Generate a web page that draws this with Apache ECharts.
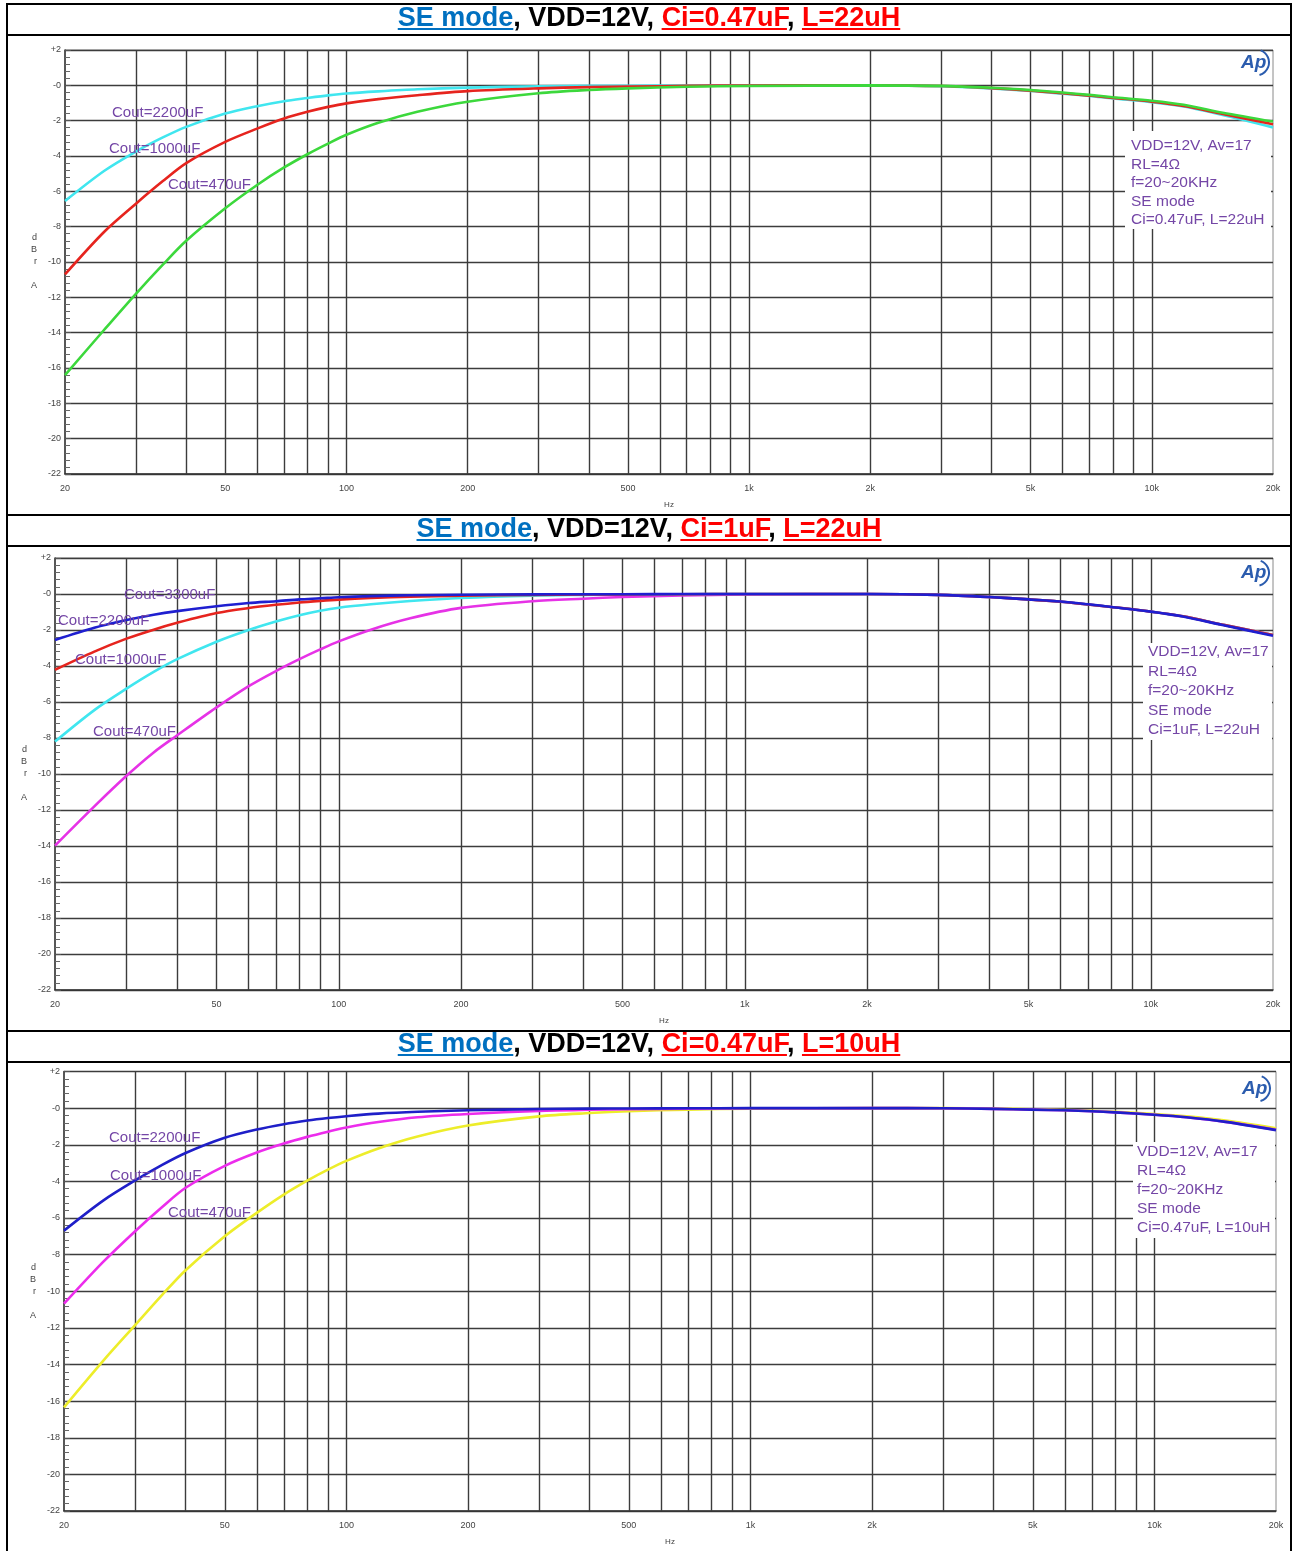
<!DOCTYPE html>
<html><head><meta charset="utf-8">
<script src="https://cdn.jsdelivr.net/npm/echarts@6/dist/echarts.min.js"></script>
<style>
body{margin:0;background:#fff;width:1293px;height:1551px;position:relative;overflow:hidden;font-family:Arial,"Liberation Sans",sans-serif}
.ln{position:absolute;background:#000;z-index:5}
.hdr{position:absolute;left:9px;width:1280px;height:31px;line-height:31px;text-align:center;font-weight:bold;font-size:27px;color:#000;white-space:nowrap;z-index:6}
.b{color:#0070c0;text-decoration:underline}
.r{color:#ff0000;text-decoration:underline}
.ch{position:absolute;left:0;width:1293px}
</style></head>
<body>
<div class="ln" style="left:6px;top:3px;width:1286px;height:2px"></div>
<div class="ln" style="left:6px;top:3px;width:2px;height:1548px"></div>
<div class="ln" style="left:1290px;top:3px;width:2px;height:1548px"></div>
<div class="ln" style="left:6px;top:34px;width:1286px;height:2px"></div>
<div class="ln" style="left:6px;top:514px;width:1286px;height:2px"></div>
<div class="ln" style="left:6px;top:545px;width:1286px;height:2px"></div>
<div class="ln" style="left:6px;top:1030px;width:1286px;height:2px"></div>
<div class="ln" style="left:6px;top:1061px;width:1286px;height:2px"></div>

<div class="hdr" style="top:2px"><span class="b">SE mode</span>, VDD=12V, <span class="r">Ci=0.47uF</span>, <span class="r">L=22uH</span></div>
<div class="hdr" style="top:513px"><span class="b">SE mode</span>, VDD=12V, <span class="r">Ci=1uF</span>, <span class="r">L=22uH</span></div>
<div class="hdr" style="top:1028px"><span class="b">SE mode</span>, VDD=12V, <span class="r">Ci=0.47uF</span>, <span class="r">L=10uH</span></div>

<div id="c1" class="ch" style="top:36px;height:478px"></div>
<div id="c2" class="ch" style="top:547px;height:483px"></div>
<div id="c3" class="ch" style="top:1063px;height:488px"></div>

<script>
// ---- data ----
const freqs = [20,25,30,35,40,50,60,70,80,90,100,120,150,200,300,400,500,700,1000,2000,3000,4000,5000,6000,7000,8000,10000,12000,15000,20000];
const xLabelValues = [20,50,100,200,500,1000,2000,5000,10000,20000];
const gridFreqs = [30,40,50,60,70,80,90,100,200,300,400,500,600,700,800,900,1000,2000,3000,4000,5000,6000,7000,8000,9000,10000];

// Panel 1: SE mode, VDD=12V, Ci=0.47uF, L=22uH
const p1Cout2200 = [-6.55,-4.85,-3.75,-2.95,-2.35,-1.6,-1.18,-0.9,-0.72,-0.57,-0.46,-0.34,-0.22,-0.13,-0.05,-0.03,-0.02,-0.01,0,0,-0.05,-0.18,-0.32,-0.47,-0.6,-0.74,-0.95,-1.2,-1.68,-2.38];
const p1Cout1000 = [-10.7,-8.3,-6.7,-5.42,-4.4,-3.2,-2.45,-1.88,-1.5,-1.22,-1.02,-0.78,-0.56,-0.33,-0.17,-0.1,-0.07,-0.03,-0.01,0,-0.04,-0.16,-0.3,-0.45,-0.58,-0.71,-0.92,-1.17,-1.62,-2.2];
const p1Cout470  = [-16.4,-13.85,-11.8,-10.15,-8.8,-6.96,-5.64,-4.65,-3.9,-3.3,-2.8,-2.12,-1.5,-0.93,-0.45,-0.26,-0.17,-0.08,-0.04,0,-0.03,-0.14,-0.27,-0.41,-0.54,-0.67,-0.87,-1.1,-1.55,-2.05];

// Panel 2: SE mode, VDD=12V, Ci=1uF, L=22uH
const p2Cout3300 = [-2.56,-1.88,-1.45,-1.15,-0.95,-0.68,-0.5,-0.4,-0.3,-0.24,-0.18,-0.12,-0.07,-0.04,-0.02,-0.01,-0.01,0,0,0,-0.05,-0.17,-0.3,-0.42,-0.57,-0.72,-0.98,-1.25,-1.72,-2.32];
const p2Cout2200 = [-4.21,-3.2,-2.48,-1.98,-1.6,-1.06,-0.78,-0.6,-0.47,-0.38,-0.31,-0.22,-0.15,-0.1,-0.05,-0.03,-0.02,-0.01,0,0,-0.05,-0.17,-0.3,-0.43,-0.58,-0.72,-0.98,-1.24,-1.7,-2.28];
const p2Cout1000 = [-8.2,-6.45,-5.26,-4.33,-3.62,-2.65,-2.0,-1.53,-1.18,-0.93,-0.76,-0.57,-0.39,-0.22,-0.09,-0.05,-0.03,-0.01,0,0,-0.05,-0.17,-0.3,-0.43,-0.58,-0.72,-0.98,-1.24,-1.7,-2.28];
const p2Cout470  = [-13.98,-11.8,-10.1,-8.8,-7.85,-6.3,-5.12,-4.28,-3.62,-3.08,-2.63,-1.98,-1.35,-0.77,-0.4,-0.26,-0.17,-0.08,-0.03,0,-0.05,-0.17,-0.3,-0.43,-0.58,-0.72,-0.98,-1.24,-1.7,-2.28];

// Panel 3: SE mode, VDD=12V, Ci=0.47uF, L=10uH
const p3Cout2200 = [-6.69,-5.05,-3.95,-3.1,-2.45,-1.62,-1.17,-0.88,-0.68,-0.54,-0.44,-0.3,-0.2,-0.12,-0.05,-0.03,-0.02,-0.01,0,0,-0.01,-0.04,-0.08,-0.12,-0.17,-0.23,-0.36,-0.5,-0.75,-1.2];
const p3Cout1000 = [-10.68,-8.4,-6.72,-5.4,-4.35,-3.15,-2.42,-1.93,-1.57,-1.29,-1.06,-0.76,-0.5,-0.32,-0.15,-0.09,-0.06,-0.03,-0.01,0,-0.01,-0.04,-0.08,-0.12,-0.17,-0.23,-0.36,-0.5,-0.75,-1.18];
const p3Cout470  = [-16.34,-13.8,-11.85,-10.2,-8.85,-7.0,-5.72,-4.72,-3.96,-3.36,-2.88,-2.2,-1.55,-0.95,-0.45,-0.27,-0.17,-0.08,-0.03,0,0,-0.03,-0.06,-0.1,-0.14,-0.2,-0.32,-0.45,-0.68,-1.1];

// ---- rendering ----
const PURPLE = '#7446a6';
const GRIDC = '#3c3c3c';
function pairs(arr){ return freqs.map(function(f,i){ return [f, arr[i]]; }); }
function fmtHz(v){ v = Math.round(v); return v >= 1000 ? (v/1000)+'k' : String(v); }
function fmtDb(v){ return v > 0 ? '+'+v : (v === 0 ? '-0' : String(v)); }

function build(cfg){
  const series = [{
    type:'line', data:[], silent:true, z:1,
    markLine:{silent:true, symbol:['none','none'], animation:false, label:{show:false},
      lineStyle:{color:GRIDC, width:1.4, type:'solid'}, emphasis:{disabled:true},
      data: gridFreqs.map(function(f){ return {xAxis:f}; })}
  }];
  cfg.curves.forEach(function(c){
    series.push({type:'line', name:c.name, data:pairs(c.data), smooth:0.3, showSymbol:false,
      lineStyle:{color:c.color, width:2.6}, itemStyle:{color:c.color}, z:5, silent:true});
  });
  const g = [];
  cfg.labels.forEach(function(l){
    g.push({type:'text', x:l[0], y:l[1], z:100, style:{text:l[2], fontSize:15, fontFamily:'Arial', fill:PURPLE, verticalAlign:'middle'}});
  });
  const b = cfg.box;
  g.push({type:'rect', z:90, shape:{x:b[0], y:b[1], width:b[2], height:b[3]}, style:{fill:'#fff'}});
  cfg.note.forEach(function(t,i){
    g.push({type:'text', x:cfg.noteX, y:cfg.noteY + i*cfg.noteDy, z:100, style:{text:t, fontSize:15.5, fontFamily:'Arial', fill:PURPLE, verticalAlign:'middle'}});
  });
  const L = cfg.logo;
  g.push({type:'text', x:L[0], y:L[1], z:100, style:{text:'Ap', fontSize:19, fontStyle:'italic', fontWeight:'bold', fontFamily:'Arial', fill:'#2b5cae', verticalAlign:'middle'}});
  g.push({type:'arc', z:100, shape:{cx:L[0]+15, cy:L[1], r:13, startAngle:-1.2, endAngle:1.3}, style:{stroke:'#2b5cae', lineWidth:2, fill:'none'}});

  return {
    animation:false, backgroundColor:'transparent',
    grid:{left:cfg.grid[0], top:cfg.grid[1], width:cfg.grid[2], height:cfg.grid[3], show:true, borderColor:'#8a8a8a', borderWidth:1, backgroundColor:'#fff', containLabel:false},
    xAxis:{type:'log', logBase:10, min:20, max:20000, name:'Hz', nameLocation:'middle', nameGap:27,
      nameTextStyle:{fontSize:8, color:'#444'},
      axisLine:{show:true, onZero:false, lineStyle:{color:'#333', width:1.5}},
      axisTick:{show:false}, splitLine:{show:false}, minorTick:{show:false}, minorSplitLine:{show:false},
      axisLabel:{customValues:xLabelValues, formatter:fmtHz, fontSize:9, color:'#444', margin:10, fontFamily:'Arial'}},
    yAxis:{type:'value', min:-22, max:2, interval:2, name:'d\nB\nr\n\nA', nameLocation:'middle', nameGap:28, nameRotate:0,
      nameTextStyle:{fontSize:9, color:'#444', lineHeight:12, padding:[0,0,10,0]},
      axisLine:{show:true, lineStyle:{color:'#333', width:1.5}},
      axisTick:{show:true, inside:true, length:6, lineStyle:{color:'#555'}},
      minorTick:{show:true, splitNumber:5, length:5, lineStyle:{color:'#666'}},
      splitLine:{show:true, lineStyle:{color:GRIDC, width:1.4}},
      axisLabel:{formatter:fmtDb, fontSize:9, color:'#444', margin:4, fontFamily:'Arial'}},
    series:series, graphic:g
  };
}

const noteBase = ['VDD=12V, Av=17', 'RL=4\u03A9', 'f=20~20KHz', 'SE mode'];

const cfg1 = {grid:[65,14,1208,430],
  curves:[{name:'Cout=2200uF', data:p1Cout2200, color:'#40e6ef'},
          {name:'Cout=1000uF', data:p1Cout1000, color:'#e6241e'},
          {name:'Cout=470uF', data:p1Cout470, color:'#3cd83c'}],
  labels:[[112,77,'Cout=2200uF'],[109,112.5,'Cout=1000uF'],[168,149,'Cout=470uF']],
  box:[1125,95,146,98], note:noteBase.concat(['Ci=0.47uF, L=22uH']), noteX:1131, noteY:110, noteDy:18.5,
  logo:[1241,26.5]};
const cfg2 = {grid:[55,11,1218,437],
  curves:[{name:'Cout=470uF', data:p2Cout470, color:'#e632e6'},
          {name:'Cout=1000uF', data:p2Cout1000, color:'#40e6ef'},
          {name:'Cout=2200uF', data:p2Cout2200, color:'#e6241e'},
          {name:'Cout=3300uF', data:p2Cout3300, color:'#1f1fd0'}],
  labels:[[124,48,'Cout=3300uF'],[58,74,'Cout=2200uF'],[75,113,'Cout=1000uF'],[93,185,'Cout=470uF']],
  box:[1143,96,129,97], note:noteBase.concat(['Ci=1uF, L=22uH']), noteX:1148, noteY:105, noteDy:19.5,
  logo:[1241,26]};
const cfg3 = {grid:[64,8.5,1212,449.5],
  curves:[{name:'Cout=470uF', data:p3Cout470, color:'#eded2a'},
          {name:'Cout=1000uF', data:p3Cout1000, color:'#ec2cec'},
          {name:'Cout=2200uF', data:p3Cout2200, color:'#1f1fc8'}],
  labels:[[109,75,'Cout=2200uF'],[110,113,'Cout=1000uF'],[168,150,'Cout=470uF']],
  box:[1133,79,142,96], note:noteBase.concat(['Ci=0.47uF, L=10uH']), noteX:1137, noteY:89, noteDy:19,
  logo:[1242,25.5]};

[['c1',cfg1],['c2',cfg2],['c3',cfg3]].forEach(function(p){
  const ch = echarts.init(document.getElementById(p[0]), null, {renderer:'canvas'});
  ch.setOption(build(p[1]));
});
</script>
</body></html>
